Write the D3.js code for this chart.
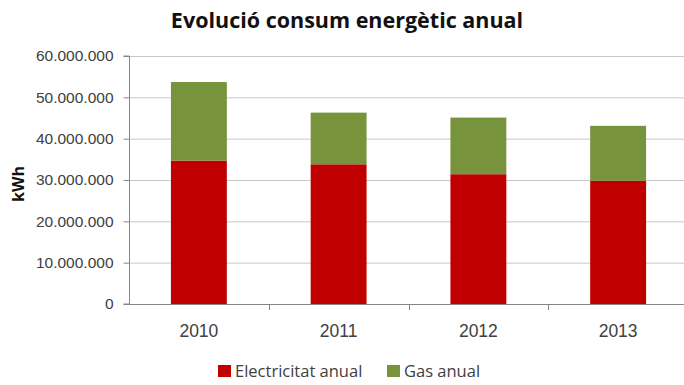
<!DOCTYPE html>
<html>
<head>
<meta charset="utf-8">
<script src="https://cdn.jsdelivr.net/npm/d3@7"></script>
<style>
  body { margin: 0; background: #fff; }
  svg { font-family: "Open Sans", "Liberation Sans", sans-serif; }
</style>
</head>
<body>
<svg class="board" width="684" height="385"></svg>
<script>
// chart data
var years = ['2010', '2011', '2012', '2013'];
var electricitat = [34700000, 33800000, 31400000, 29800000];
var gas = [19000000, 12500000, 13700000, 13300000];
var seriesNames = ['Electricitat anual', 'Gas anual'];
var seriesColors = ['#c00000', '#77933c'];
var yTicks = [0, 10000000, 20000000, 30000000, 40000000, 50000000, 60000000];

var svg = d3.select('.board');
var plotLeft = 129, plotRight = 688, plotTop = 56, plotBottom = 304;

var x = d3.scaleBand().domain(years).range([plotLeft, plotRight]).paddingInner(0.6).paddingOuter(0.3);
var y = d3.scaleLinear().domain([0, 60000000]).range([plotBottom, plotTop]);

var fmt = function (d) {
  return d3.format(',')(d).replace(/,/g, '.');
};

// gridlines
svg.selectAll('.grid')
  .data(yTicks.slice(1))
  .enter()
  .append('line')
  .attr('x1', plotLeft)
  .attr('x2', 684)
  .attr('y1', function (d) { return y(d) + 0.5; })
  .attr('y2', function (d) { return y(d) + 0.5; })
  .attr('stroke', '#c8c8c8')
  .attr('stroke-width', 1);

// stacked bars
var rows = years.map(function (yr, i) {
  return { year: yr, elec: electricitat[i], gas: gas[i] };
});
var stack = d3.stack().keys(['elec', 'gas'])(rows);

svg.selectAll('.layer')
  .data(stack)
  .enter()
  .append('g')
  .attr('fill', function (d, i) { return seriesColors[i]; })
  .selectAll('rect')
  .data(function (d) { return d; })
  .enter()
  .append('rect')
  .attr('x', function (d) { return x(d.data.year); })
  .attr('width', x.bandwidth())
  .attr('y', function (d) { return y(d[1]); })
  .attr('height', function (d) { return y(d[0]) - y(d[1]); });

// y axis
var yAxis = d3.axisLeft(y).tickValues(yTicks).tickFormat(fmt).tickSize(6).tickPadding(10);
var gy = svg.append('g')
  .attr('transform', 'translate(' + (plotLeft + 0.5) + ',0)')
  .call(yAxis);
gy.select('.domain').attr('stroke', '#868686').attr('d', 'M-6,' + plotTop + 'H0V' + plotBottom + 'H-6');
gy.selectAll('.tick line').attr('stroke', '#868686');
gy.selectAll('.tick text').attr('fill', '#404040').style('font-size', '15.5px');

// x axis
var xAxis = d3.axisBottom(x).tickSize(0).tickPadding(20);
var gx = svg.append('g')
  .attr('transform', 'translate(0,' + (plotBottom + 0.5) + ')')
  .call(xAxis);
gx.select('.domain').attr('stroke', '#868686').attr('d', 'M' + plotLeft + ',0H684');
gx.selectAll('.tick text').attr('fill', '#404040').style('font-size', '17.5px');

// category boundary ticks
var step = x.step();
svg.selectAll('.xtick')
  .data(years)
  .enter()
  .append('line')
  .attr('x1', function (d) { return Math.round(x(d) + x.bandwidth() / 2 + step / 2) + 0.5; })
  .attr('x2', function (d) { return Math.round(x(d) + x.bandwidth() / 2 + step / 2) + 0.5; })
  .attr('y1', plotBottom)
  .attr('y2', plotBottom + 6)
  .attr('stroke', '#868686');

// title
svg.append('text')
  .attr('x', 347)
  .attr('y', 28)
  .attr('text-anchor', 'middle')
  .style('font-size', '21.5px')
  .style('font-weight', 'bold')
  .attr('fill', '#111')
  .text('Evolució consum energètic anual');

// y label
svg.append('text')
  .attr('transform', 'translate(24,184) rotate(-90)')
  .attr('text-anchor', 'middle')
  .style('font-size', '16px')
  .style('font-weight', 'bold')
  .attr('fill', '#111')
  .text('kWh');

// legend
var legendX = [218, 387];
var legend = svg.selectAll('.legend')
  .data(seriesNames)
  .enter()
  .append('g')
  .attr('transform', function (d, i) { return 'translate(' + legendX[i] + ',365)'; });
legend.append('rect')
  .attr('width', 13)
  .attr('height', 12)
  .attr('fill', function (d, i) { return seriesColors[i]; });
legend.append('text')
  .attr('x', 17)
  .attr('y', 12)
  .style('font-size', '16.5px')
  .attr('fill', '#404040')
  .text(function (d) { return d; });
</script>
</body>
</html>
